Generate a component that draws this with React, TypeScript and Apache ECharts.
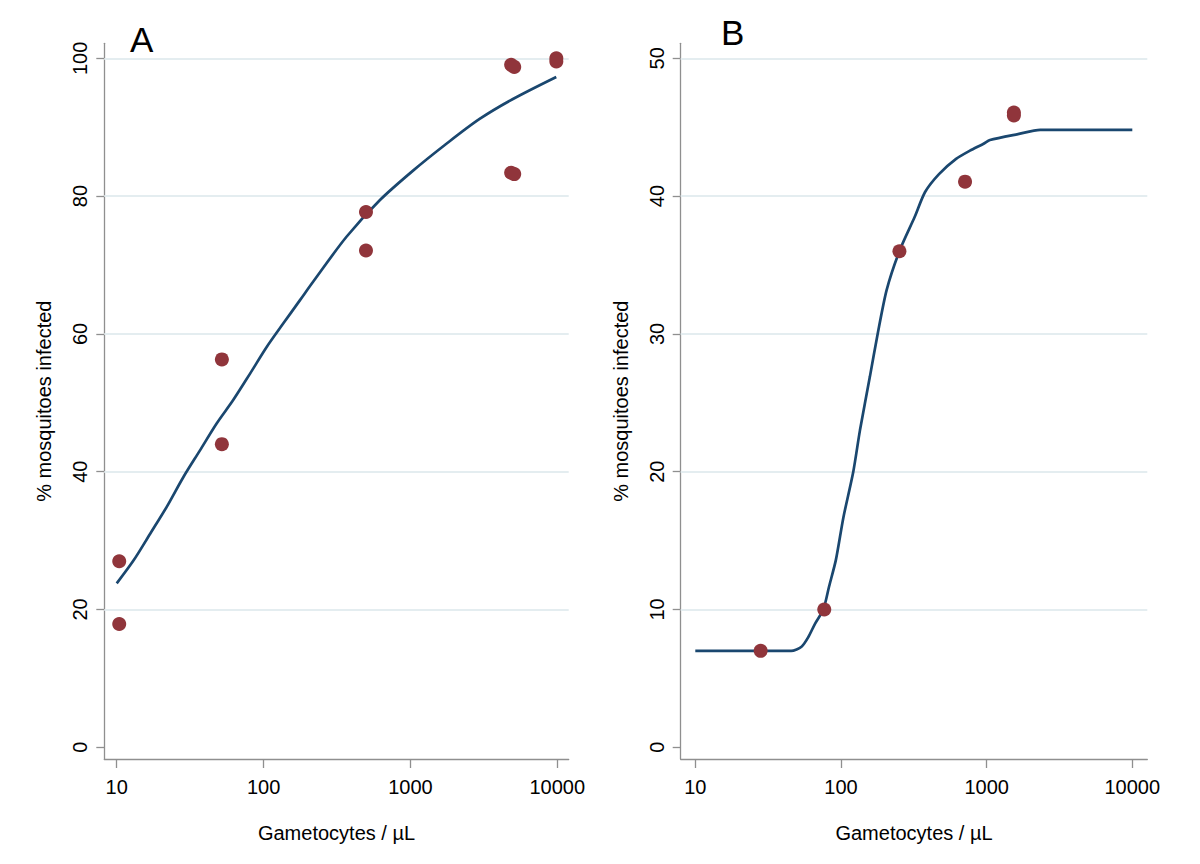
import React, { useEffect, useRef } from 'react';
import * as echarts from 'echarts';

// ---- Panel A data ----
const pointsA_x = [10.4, 10.4, 52, 52, 498, 498, 4850, 5090, 4850, 5090, 9850, 9850];
const pointsA_y = [27.0, 17.9, 56.3, 44.0, 77.7, 72.1, 99.05, 98.75, 83.4, 83.2, 100.0, 99.55];

const curveA_x = [10, 13, 16.9, 21.9, 28.4, 36.9, 47.9, 62.1, 80.7, 105, 136, 177, 218, 367, 618, 1042, 1758, 2958, 4989, 9840];
const curveA_y = [23.8, 27.1, 31.0, 34.9, 39.2, 43.1, 47.0, 50.4, 54.2, 58.1, 61.5, 64.9, 67.6, 74.1, 79.4, 83.7, 87.6, 91.2, 94.1, 97.3];

// ---- Panel B data ----
const pointsB_x = [28.1, 76.8, 252, 711, 1538, 1538];
const pointsB_y = [7.0, 10.0, 36.0, 41.05, 46.07, 45.85];

const curveB_x = [10, 45.5, 53.6, 59.7, 66.6, 75.7, 82.8, 92.3, 104, 121.5, 135, 158, 178.6, 206, 254, 321, 378, 471, 617, 768, 953, 1054, 1641, 2334, 10000];
const curveB_y = [7.0, 7.0, 7.3, 8.0, 9.0, 10.0, 11.65, 13.6, 16.7, 20.0, 23.0, 26.9, 30.0, 33.2, 36.1, 38.5, 40.3, 41.6, 42.7, 43.3, 43.8, 44.07, 44.5, 44.8, 44.8];

// ---- Axis ticks / labels ----
const xTickValues = [10, 100, 1000, 10000];
const xTickLabels = ['10', '100', '1000', '10000'];
const yTicksA = [0, 20, 40, 60, 80, 100];
const yTicksB = [0, 10, 20, 30, 40, 50];
const gridLinesA = [20, 40, 60, 80, 100];
const gridLinesB = [10, 20, 30, 40, 50];

const panelLabels = ['A', 'B'];
const xTitle = 'Gametocytes / µL';
const yTitle = '% mosquitoes infected';

const FONT = '"Liberation Sans", Arial, Helvetica, sans-serif';
const AXIS_COLOR = '#8f8f8f';
const NAVY = '#1a476f';
const MAROON = '#90353b';
const GRID_COLOR = '#e4edf0';

const zip = (xs: number[], ys: number[]) => xs.map((x, i) => [x, ys[i]]);

function makeXAxis(gridIndex: number, min: number, max: number) {
  return {
    type: 'log',
    logBase: 10,
    gridIndex,
    min,
    max,
    name: xTitle,
    nameLocation: 'middle',
    nameGap: 64,
    nameTextStyle: { fontSize: 20, color: '#000', fontFamily: FONT },
    axisLine: { show: true, onZero: false, lineStyle: { color: AXIS_COLOR, width: 1.3 } },
    axisTick: { show: true, length: 9, customValues: xTickValues, lineStyle: { color: AXIS_COLOR, width: 1.3 } },
    axisLabel: {
      show: true,
      customValues: xTickValues,
      margin: 18,
      fontSize: 20,
      color: '#000',
      fontFamily: FONT,
      formatter: (v: number) => {
        const idx = xTickValues.findIndex((t) => Math.abs(Math.log10(t) - Math.log10(v)) < 1e-6);
        return idx >= 0 ? xTickLabels[idx] : '';
      },
    },
    splitLine: { show: false },
    minorTick: { show: false },
  };
}

function makeYAxis(gridIndex: number, min: number, max: number, ticks: number[]) {
  return {
    type: 'value',
    gridIndex,
    min,
    max,
    name: yTitle,
    nameLocation: 'middle',
    nameRotate: 90,
    nameGap: 50,
    nameTextStyle: { fontSize: 20, color: '#000', fontFamily: FONT },
    axisLine: { show: true, onZero: false, lineStyle: { color: AXIS_COLOR, width: 1.3 } },
    axisTick: { show: true, length: 8, customValues: ticks, lineStyle: { color: AXIS_COLOR, width: 1.3 } },
    axisLabel: {
      show: true,
      customValues: ticks,
      rotate: 90,
      margin: 14,
      fontSize: 20,
      color: '#000',
      fontFamily: FONT,
    },
    splitLine: { show: false },
  };
}

export default function App() {
  const ref = useRef<HTMLDivElement>(null);

  useEffect(() => {
    if (!ref.current) return;
    const chart = echarts.init(ref.current, undefined, { renderer: 'svg' });

    const option: any = {
      animation: false,
      backgroundColor: '#ffffff',
      textStyle: { fontFamily: FONT },
      grid: [
        { left: 104.3, top: 43.3, width: 464.4, height: 715.7, containLabel: false },
        { left: 680.7, top: 43.3, width: 466.6, height: 715.7, containLabel: false },
      ],
      xAxis: [makeXAxis(0, 8.23, 11958), makeXAxis(1, 7.94, 12676)],
      yAxis: [makeYAxis(0, -1.7, 102.18, yTicksA), makeYAxis(1, -0.85, 51.09, yTicksB)],
      graphic: [
        {
          type: 'text',
          left: 130,
          top: 22,
          style: { text: panelLabels[0], fontSize: 35, fill: '#000', fontFamily: FONT },
        },
        {
          type: 'text',
          left: 721,
          top: 15,
          style: { text: panelLabels[1], fontSize: 35, fill: '#000', fontFamily: FONT },
        },
      ],
      series: [
        {
          type: 'line',
          xAxisIndex: 0,
          yAxisIndex: 0,
          data: zip(curveA_x, curveA_y),
          showSymbol: false,
          smooth: 0.3,
          z: 2,
          lineStyle: { color: NAVY, width: 2.7 },
          silent: true,
          markLine: {
            silent: true,
            z: 1,
            symbol: ['none', 'none'],
            label: { show: false },
            lineStyle: { color: GRID_COLOR, width: 2.2, type: 'solid' },
            data: gridLinesA.map((v) => ({ yAxis: v })),
          },
        },
        {
          type: 'scatter',
          xAxisIndex: 0,
          yAxisIndex: 0,
          data: zip(pointsA_x, pointsA_y),
          symbol: 'circle',
          symbolSize: 14,
          z: 3,
          itemStyle: { color: MAROON, opacity: 1 },
        },
        {
          type: 'line',
          xAxisIndex: 1,
          yAxisIndex: 1,
          data: zip(curveB_x, curveB_y),
          showSymbol: false,
          smooth: 0.25,
          z: 2,
          lineStyle: { color: NAVY, width: 2.7 },
          silent: true,
          markLine: {
            silent: true,
            z: 1,
            symbol: ['none', 'none'],
            label: { show: false },
            lineStyle: { color: GRID_COLOR, width: 2.2, type: 'solid' },
            data: gridLinesB.map((v) => ({ yAxis: v })),
          },
        },
        {
          type: 'scatter',
          xAxisIndex: 1,
          yAxisIndex: 1,
          data: zip(pointsB_x, pointsB_y),
          symbol: 'circle',
          symbolSize: 14,
          z: 3,
          itemStyle: { color: MAROON, opacity: 1 },
        },
      ],
    };

    chart.setOption(option);
    return () => chart.dispose();
  }, []);

  return (
    <div
      ref={ref}
      style={{ position: 'fixed', left: 0, top: 0, width: 1200, height: 864, background: '#fff' }}
    />
  );
}
